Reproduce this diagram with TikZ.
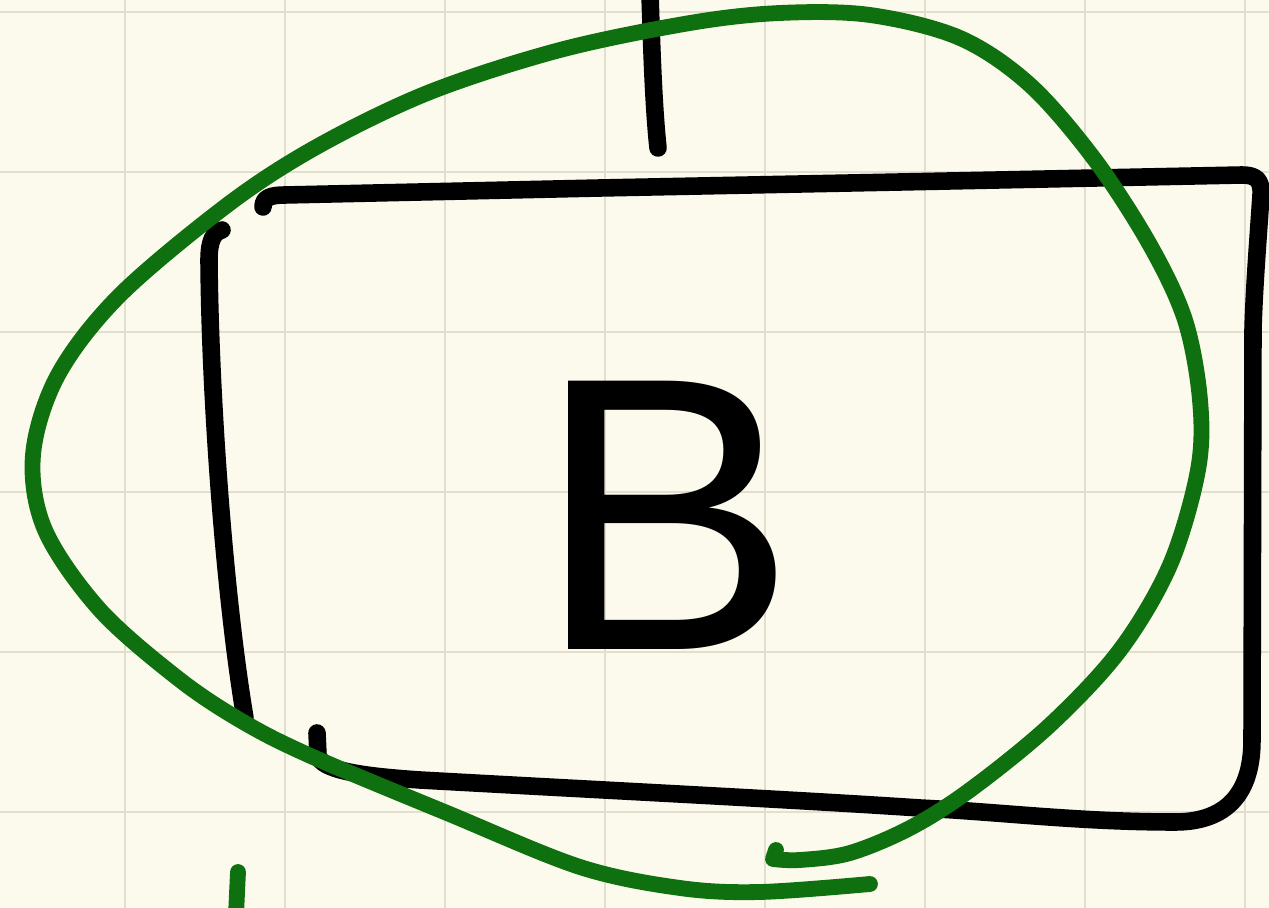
\documentclass[tikz,border=0pt]{standalone}
\usepackage{fontspec}
\usepackage{xcolor}
\usepackage{tikz}
\usetikzlibrary{positioning}
\newfontfamily\handfont{Liberation Sans}
\definecolor{papercolor}{RGB}{252,250,236}
\definecolor{gridcolor}{RGB}{226,223,207}
\definecolor{loopcolor}{RGB}{14,112,14}

\begin{document}
\begin{tikzpicture}[
    x=0.02cm, y=-0.02cm,
    paper/.style={fill=papercolor},
    gridline/.style={draw=gridcolor, line width=1.3pt},
    ink/.style={draw=black, line width=10pt, line cap=round, line join=round},
    loopink/.style={draw=loopcolor, line width=9pt, line cap=round, line join=round},
    letter/.style={font=\handfont\fontsize{222}{222}\selectfont, text=black, inner sep=0pt}
]
    \useasboundingbox (0,0) rectangle (1269,908);
    \fill[paper] (0,0) rectangle (1269,908);

    % squared paper
    \foreach \gx in {125,285,...,1245} \draw[gridline] (\gx,0) -- (\gx,908);
    \foreach \gy in {12,172,...,812} \draw[gridline] (0,\gy) -- (1269,\gy);

    % wire coming in from the top
    \coordinate (wiretop) at (650,-6);
    \coordinate (wireend) at (658,148);
    \draw[ink] (wiretop) .. controls (652,60) and (654,110) .. (wireend);

    % the box, top / right / bottom in one stroke, left side apart
    \draw[ink] (263,207) .. controls (263,198) and (270,195) .. (285,195)
        -- (600,188) -- (900,182) -- (1242,175)
        .. controls (1256,175) and (1262,180) .. (1261,195)
        .. controls (1258,240) and (1254,290) .. (1253,330)
        -- (1252,740)
        .. controls (1252,800) and (1220,822) .. (1175,822)
        .. controls (1080,822) and (1000,812) .. (920,808)
        .. controls (800,800) and (600,790) .. (420,780)
        .. controls (360,776) and (320,770) .. (318,755)
        -- (317,733);
    \draw[ink] (222,230) .. controls (214,232) and (209,240) .. (209,260)
        .. controls (210,400) and (225,600) .. (245,718);

    \node[letter, anchor=base] (letter) at (667,650) {B};

    % green loop round the box
    \draw[loopink] (776,850) -- plot[smooth, tension=0.55] coordinates {
        (773,859) (800,860) (850,853) (910,828) (970,790) (1050,725)
        (1120,650) (1170,565) (1198,470) (1200,400) (1185,320) (1150,245)
        (1095,160) (1030,85) (960,38) (870,15) (780,13) (690,23) (560,50)
        (430,92) (320,145) (230,203) (120,295) (58,375) (33,455) (45,530)
        (100,610) (180,680) (245,723) (313,757) (447,813) (580,867)
        (680,888) (760,892) (870,884)};
    \coordinate (ticktop) at (238,872);
    \coordinate (tickend) at (236,915);
    \draw[loopink] (ticktop) -- (tickend);

\end{tikzpicture}
\end{document}
